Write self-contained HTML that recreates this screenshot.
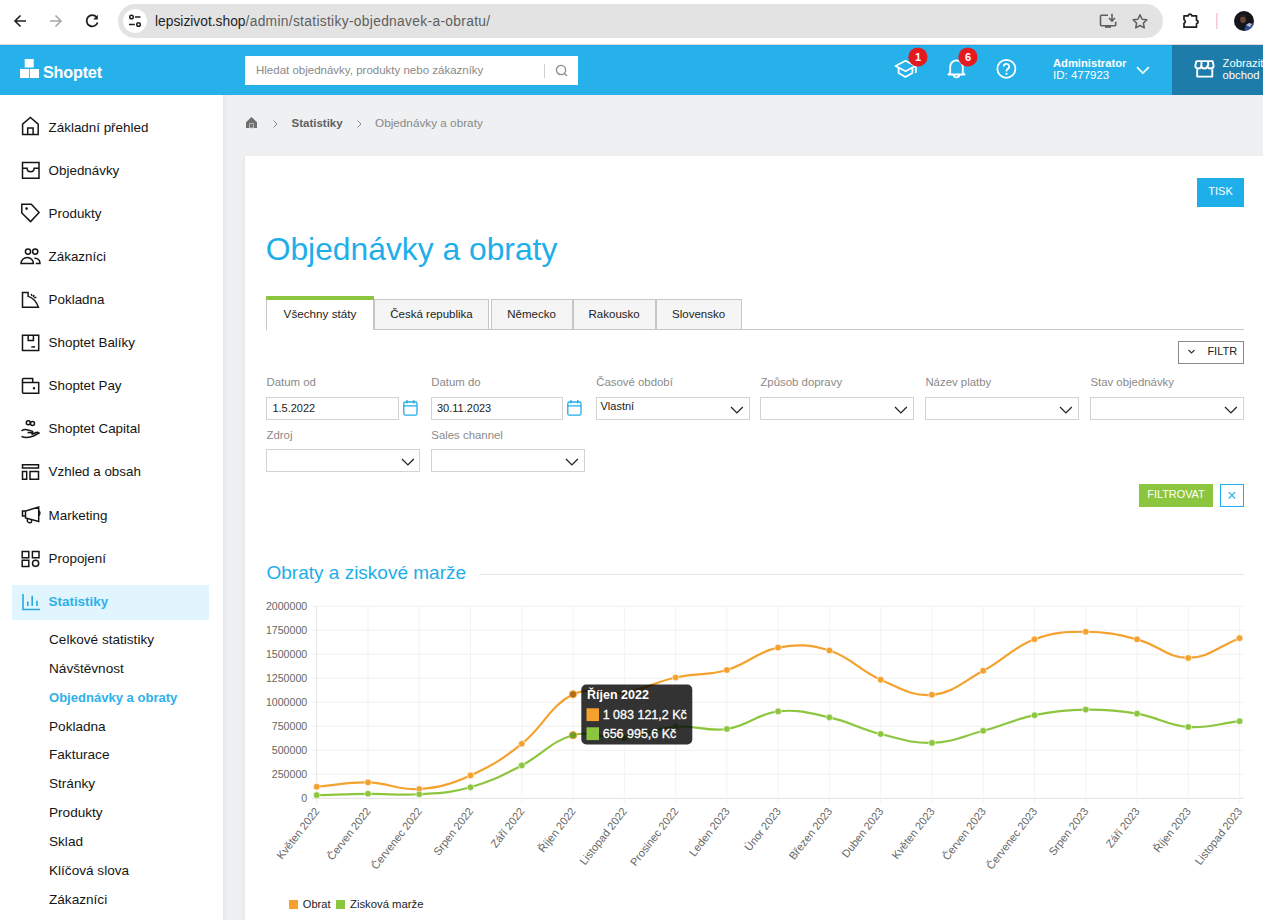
<!DOCTYPE html>
<html><head><meta charset="utf-8">
<style>
*{margin:0;padding:0;box-sizing:border-box}
html,body{width:1263px;height:920px;overflow:hidden;background:#fff;font-family:"Liberation Sans",sans-serif;color:#222}
.a{position:absolute}
.t{position:absolute;white-space:nowrap;line-height:1}
#chrome{left:0;top:0;width:1263px;height:44px;background:#fff}
#pill{left:118px;top:4px;width:1045px;height:34px;border-radius:17px;background:#e3e3e3}
#hdr{left:0;top:44px;width:1263px;height:51px;background:#27b1ea;border-top:1px solid #e0d9d7;box-shadow:inset 0 1px 0 #1cadee}
#shop{left:1172px;top:45px;width:91px;height:50px;background:#1d7caa}
#side{left:0;top:95px;width:223px;height:825px;background:#fff}
#main{left:223px;top:95px;width:1040px;height:825px;background:#eef0f2;box-shadow:inset 5px 0 5px -3px rgba(0,0,0,0.05)}
#card{left:245px;top:156px;width:1018px;height:764px;background:#fff;box-shadow:-2px 0 3px rgba(0,0,0,0.03)}
.nav{left:48px;font-size:13.4px;color:#1a1a1a}
.sub{left:48px;font-size:13.4px;color:#1a1a1a}
.ic{position:absolute;fill:none;stroke:#1a1a1a;stroke-width:1.5}
.lbl{font-size:11.5px;color:#888}
.inp{position:absolute;border:1px solid #d0d0d0;background:#fff;height:23px}
.chev{position:absolute;fill:none;stroke:#222;stroke-width:1.4}
.tab{position:absolute;top:299px;height:31px;border:1px solid #c8c8c8;background:#f4f4f4;font-size:12px;color:#222;text-align:center;line-height:29px}
</style></head><body>
<!-- browser chrome -->
<div id="chrome" class="a"></div>
<div id="pill" class="a"></div>
<div class="a" style="left:123px;top:9px;width:24px;height:24px;border-radius:12px;background:#fff"></div>
<svg class="a" style="left:0;top:0" width="1263" height="44">
 <g fill="none" stroke="#1f1f1f" stroke-width="1.6" stroke-linecap="butt">
  <path d="M26 21H15.5M20.5 15.5L15 21l5.5 5.5"/>
 </g>
 <g fill="none" stroke="#a6a6a6" stroke-width="1.6">
  <path d="M50 21h10.5M55.5 15.5L61 21l-5.5 5.5"/>
 </g>
 <g fill="none" stroke="#1f1f1f" stroke-width="1.8">
  <path d="M96.6 17.2A5.6 5.6 0 1 0 97.6 22.5"/>
 </g>
 <path d="M97.8 14.8v4.6h-4.6z" fill="#1f1f1f"/>
 <g fill="none" stroke="#1f1f1f" stroke-width="1.5">
  <circle cx="131.5" cy="17" r="1.8"/><path d="M135 17h5.5"/>
  <circle cx="138.5" cy="24.5" r="1.8"/><path d="M129 24.5h5.8"/>
 </g>
 <g fill="none" stroke="#5f5f5f" stroke-width="1.6">
  <path d="M1108 15.3h-6.6a0.9 .9 0 0 0-.9.9v8.6a.9 .9 0 0 0 .9.9h13.4a.9 .9 0 0 0 .9-.9v-3"/>
  <path d="M1112 13.8v7M1109 18l3 3 3-3"/>
 </g>
 <rect x="1105" y="26" width="6" height="1.8" fill="#5f5f5f"/>
 <path d="M1140 14.8l2.1 4.4 4.8.6-3.5 3.3.9 4.7-4.3-2.3-4.3 2.3.9-4.7-3.5-3.3 4.8-.6z" fill="none" stroke="#5f5f5f" stroke-width="1.5" stroke-linejoin="round"/>
 <path d="M1184 15.8h4.3a1.7 1.7 0 0 1 3.4 0h4.8v4.6a1.6 1.6 0 0 1 0 3.2v3.6h-12.5v-3.9a1.9 1.9 0 0 0 0-3.6z" fill="none" stroke="#1f1f1f" stroke-width="1.7" stroke-linejoin="round"/>
 <rect x="1216" y="13" width="1.5" height="16" fill="#f4c6da"/>
 <clipPath id="av"><circle cx="1244" cy="21" r="10"/></clipPath>
 <g clip-path="url(#av)"><rect x="1234" y="11" width="20" height="20" fill="#15151c"/>
 <path d="M1244 31l2-6 4-2 5 1v8z" fill="#2a4a9a"/>
 <path d="M1246 25l3-2 3 1-2 3z" fill="#b9bcc4"/>
 <ellipse cx="1243" cy="19.5" rx="2.8" ry="3.6" fill="#6a4538"/>
 <path d="M1240 16c1-2 5-2 6 0v1h-6z" fill="#2a1e1a"/></g>
</svg>
<div class="t" style="left:155px;top:15px;font-size:13.8px;color:#1f1f1f">lepsizivot.shop<span style="color:#5e5e5e;letter-spacing:0.31px">/admin/statistiky-objednavek-a-obratu/</span></div>
<div id="hdr" class="a"></div>
<div id="shop" class="a"></div>
<svg class="a" style="left:0;top:44px" width="1263" height="51">
 <g fill="#fff">
  <rect x="24.7" y="15" width="9" height="8.5"/>
  <rect x="20" y="25" width="9" height="9"/>
  <rect x="29.8" y="25" width="9.2" height="9"/>
 </g>
</svg>
<div class="t" style="left:43px;top:64px;font-size:16.2px;font-weight:bold;color:#fff;letter-spacing:-0.2px">Shoptet</div>
<div class="a" style="left:245px;top:56px;width:333px;height:29px;background:#fff"></div>
<div class="t" style="left:256px;top:65px;font-size:11.5px;color:#8a8a8a">Hledat objednávky, produkty nebo zákazníky</div>
<div class="a" style="left:544px;top:64px;width:1px;height:14px;background:#cfcfcf"></div>
<svg class="a" style="left:554px;top:63px" width="16" height="16"><circle cx="7" cy="7" r="4.6" fill="none" stroke="#8a8a8a" stroke-width="1.3"/><path d="M10.3 10.3l2.7 2.7" stroke="#8a8a8a" stroke-width="1.3"/></svg>
<svg class="a" style="left:880px;top:44px" width="383" height="51">
 <g fill="none" stroke="#fff" stroke-width="1.8" stroke-linejoin="round">
  <path d="M15.5 22l10-5.3 10 5.3-10 5.3z"/>
  <path d="M18.6 23.8v5.2l6.9 4 6.9-4v-5.2"/>
  <path d="M35.8 22.3v6.6"/>
  <path d="M70.2 28.8v-6.1a6.3 6.3 0 0 1 12.6 0v6.1l1.8 1.7h-16.2z"/>
  <path d="M73.6 30.8a2.9 2.5 0 0 0 5.8 0"/>
  <circle cx="126.4" cy="24.8" r="9"/>
 </g>
 <path d="M123.6 22.6a2.8 2.8 0 1 1 4.1 2.5c-.8.5-1.2.9-1.2 1.8v.5" fill="none" stroke="#fff" stroke-width="1.8"/>
 <circle cx="126.5" cy="29.8" r="1.1" fill="#fff"/>
 <circle cx="37.9" cy="13" r="9.6" fill="#e31b1f"/>
 <circle cx="87.9" cy="13" r="9.6" fill="#e31b1f"/>
 <path d="M257 23.1l5.9 6 5.9-6" fill="none" stroke="#fff" stroke-width="1.5"/>
 <g fill="none" stroke="#fff" stroke-width="1.9" stroke-linejoin="round">
  <path d="M317.2 25.3v7.3h15.1v-7.3"/>
  <path d="M316.4 17.1H332.6L333.6 21.8A3.05 2.7 0 0 1 327.5 21.8A3.05 2.7 0 0 1 321.4 21.8A3.05 2.7 0 0 1 315.3 21.8Z"/>
  <path d="M321.6 17.1l-.3 4.7M328 17.1l.3 4.7"/>
 </g>
</svg>
<div class="t" style="left:913px;top:51.5px;width:10px;text-align:center;font-size:11px;font-weight:bold;color:#fff">1</div>
<div class="t" style="left:963px;top:51.5px;width:10px;text-align:center;font-size:11px;font-weight:bold;color:#fff">6</div>
<div class="t" style="left:1053px;top:57.5px;font-size:11.2px;font-weight:bold;color:#fff">Administrator</div>
<div class="t" style="left:1053px;top:69.5px;font-size:11.5px;color:#fff">ID: 477923</div>
<div class="t" style="left:1222.5px;top:58px;font-size:11.3px;color:#fff">Zobrazit</div>
<div class="t" style="left:1222.5px;top:69.5px;font-size:11.3px;color:#fff">obchod</div>
<div id="side" class="a"></div>
<div class="a" style="left:12px;top:585px;width:197px;height:35px;background:#e1f5fe"></div>
<div class="t" style="left:48.6px;top:120.66px;font-size:13.4px;color:#151515">Základní přehled</div>
<div class="t" style="left:48.6px;top:163.76px;font-size:13.4px;color:#151515">Objednávky</div>
<div class="t" style="left:48.6px;top:206.86px;font-size:13.4px;color:#151515">Produkty</div>
<div class="t" style="left:48.6px;top:249.96px;font-size:13.4px;color:#151515">Zákazníci</div>
<div class="t" style="left:48.6px;top:293.06px;font-size:13.4px;color:#151515">Pokladna</div>
<div class="t" style="left:48.6px;top:336.16px;font-size:13.4px;color:#151515">Shoptet Balíky</div>
<div class="t" style="left:48.6px;top:379.26px;font-size:13.4px;color:#151515">Shoptet Pay</div>
<div class="t" style="left:48.6px;top:422.36px;font-size:13.4px;color:#151515">Shoptet Capital</div>
<div class="t" style="left:48.6px;top:465.46px;font-size:13.4px;color:#151515">Vzhled a obsah</div>
<div class="t" style="left:48.6px;top:508.56px;font-size:13.4px;color:#151515">Marketing</div>
<div class="t" style="left:48.6px;top:551.66px;font-size:13.4px;color:#151515">Propojení</div>
<div class="t" style="left:48.6px;top:594.96px;font-size:13.4px;font-weight:bold;color:#2db1ea">Statistiky</div>
<div class="t" style="left:49px;top:633.09px;font-size:13.6px;color:#151515">Celkové statistiky</div>
<div class="t" style="left:49px;top:661.94px;font-size:13.6px;color:#151515">Návštěvnost</div>
<div class="t" style="left:49px;top:691.25px;font-size:13.05px;font-weight:bold;color:#2db1ea">Objednávky a obraty</div>
<div class="t" style="left:49px;top:719.64px;font-size:13.6px;color:#151515">Pokladna</div>
<div class="t" style="left:49px;top:748.49px;font-size:13.6px;color:#151515">Fakturace</div>
<div class="t" style="left:49px;top:777.34px;font-size:13.6px;color:#151515">Stránky</div>
<div class="t" style="left:49px;top:806.19px;font-size:13.6px;color:#151515">Produkty</div>
<div class="t" style="left:49px;top:835.04px;font-size:13.6px;color:#151515">Sklad</div>
<div class="t" style="left:49px;top:863.89px;font-size:13.6px;color:#151515">Klíčová slova</div>
<div class="t" style="left:49px;top:892.74px;font-size:13.6px;color:#151515">Zákazníci</div>
<svg class="a" style="left:0;top:95px" width="223" height="825">
 <g fill="none" stroke="#151515" stroke-width="1.5" stroke-linejoin="miter">
  <path d="M22.6 39.5v-10.4l7.8-6.6 7.8 6.6v10.4z"/><path d="M27.7 39.5v-6.4h5.4v6.4"/>
  <path d="M22.5 67.5h16.5v15.7h-16.5z"/><path d="M22.5 73.2h4.6c0 4.6 7 4.6 7 0h4.9"/>
  <path d="M21.8 109.2h9.5l7.8 8.4-8.5 9-8.8-8.6z"/>
  <circle cx="26.6" cy="113.6" r=".6" fill="#151515"/>
  <circle cx="28" cy="156.6" r="2.6"/><circle cx="35.2" cy="156.6" r="2.6"/>
  <path d="M21 168.5a6.2 6 0 0 1 12.4 0z"/><path d="M34.5 163.2a5 5 0 0 1 5.5 5.3h-4.2"/>
  <path d="M22.5 197.4h5.6v4q7 2 10.3 10.8h-15.9z"/>
  <path d="M31.2 199l.9 2M34 200l-.6 2.2M36.3 202.2l-2 .7"/>
  <path d="M22.5 240.2h16.2v15.2h-16.2z"/><path d="M28.2 240.2v5.2h5.2v-5.2"/><path d="M31.3 251.9h3.8"/>
  <path d="M22.5 287.6v-3.2q0-.9.9-.9h9.3v4.1"/><path d="M22.5 287.6h16.2v10.6h-15.3q-.9 0-.9-.9z"/>
  <circle cx="34" cy="293.2" r=".5" fill="#151515"/>
  <circle cx="28.3" cy="327.8" r="2"/><circle cx="32.5" cy="328.6" r="2"/>
  <path d="M21.5 335.8q3-2 6.5-.8l4.5 1.3q1 1.3-1 1.5l-4-.2M21.5 341.5q6 2 12-.5l5.5-3q-1.5-1.5-4 0l-3.5 1.5"/>
  <path d="M22.5 369.7h16v3.3h-16z"/><path d="M22.5 376.5h4.2v7.8h-4.2z"/><path d="M30 376.5h8.5v7.8h-8.5z"/>
  <path d="M25.5 421v-5l13.2-4v14.5l-13.2-3.5z"/><path d="M25.5 416h-3v5h3"/><path d="M38.7 416q2.5 1.5 0 4.7"/><path d="M27.5 423.5q-1 4 2 4.2t1.8-2.6"/>
  <path d="M22.2 456.5h6.6v6.2h-6.6zM32.4 456.5h6.6v6.2h-6.6zM22.2 465.2h6.6v6.2h-6.6z"/><circle cx="35.6" cy="468.3" r="3.1"/>
 </g>
 <g fill="none" stroke="#27aae1" stroke-width="1.6">
  <path d="M23 499v15.5h17"/><path d="M27.8 506.5v4.5M32.2 500.8v10.2M37 505.8v5.2"/>
 </g>
</svg>
<div id="main" class="a"></div>
<div id="card" class="a"></div>
<svg class="a" style="left:245px;top:116px" width="14" height="14"><path d="M1 6.3L6.5 1l5.5 5.3v5.6h-11z" fill="#6f6f6f"/><rect x="4.6" y="7.6" width="3.8" height="4.3" fill="#6f6f6f" stroke="#c9c9c9" stroke-width="0.8"/></svg>
<svg class="a" style="left:270px;top:118px" width="100" height="12"><path d="M3.5 2.5l3.5 3.5-3.5 3.5M87.5 2.5l3.5 3.5-3.5 3.5" fill="none" stroke="#8a8a8a" stroke-width="1"/></svg>
<div class="t" style="left:291.5px;top:118.07px;font-size:11.5px;font-weight:bold;color:#5f5f5f">Statistiky</div>
<div class="t" style="left:375px;top:117.25px;font-size:11.75px;color:#888">Objednávky a obraty</div>
<div class="a" style="left:1197px;top:178px;width:47px;height:29px;background:#1eaee9"></div>
<div class="t" style="left:1197px;top:186.29px;width:47px;text-align:center;font-size:11px;color:#fff">TISK</div>
<div class="t" style="left:265.7px;top:233.58px;font-size:31.8px;color:#1eaee9">Objednávky a obraty</div>
<div class="a" style="left:266px;top:329px;width:978px;height:1px;background:#c6c6c6"></div>
<div class="a" style="left:373.6px;top:299px;width:115.9px;height:31px;background:#f5f5f5;border:1px solid #c6c6c6"></div>
<div class="t" style="left:373.6px;top:308.67px;width:115.9px;text-align:center;font-size:11.5px;color:#222">Česká republika</div>
<div class="a" style="left:490.5px;top:299px;width:82.2px;height:31px;background:#f5f5f5;border:1px solid #c6c6c6"></div>
<div class="t" style="left:490.5px;top:308.67px;width:82.2px;text-align:center;font-size:11.5px;color:#222">Německo</div>
<div class="a" style="left:572.7px;top:299px;width:82.9px;height:31px;background:#f5f5f5;border:1px solid #c6c6c6"></div>
<div class="t" style="left:572.7px;top:308.67px;width:82.9px;text-align:center;font-size:11.5px;color:#222">Rakousko</div>
<div class="a" style="left:655.6px;top:299px;width:86.0px;height:31px;background:#f5f5f5;border:1px solid #c6c6c6"></div>
<div class="t" style="left:655.6px;top:308.67px;width:86.0px;text-align:center;font-size:11.5px;color:#222">Slovensko</div>
<div class="a" style="left:266px;top:296px;width:108px;height:34px;background:#fff;border-left:1px solid #c6c6c6;border-right:1px solid #c6c6c6"></div>
<div class="a" style="left:266px;top:296px;width:108px;height:4px;background:#8cc63f"></div>
<div class="t" style="left:266px;top:307.60px;width:108px;text-align:center;font-size:11.7px;color:#222">Všechny státy</div>
<div class="a" style="left:1178px;top:341px;width:66px;height:23px;border:1px solid #8a8a8a"></div>
<svg class="a" style="left:1186px;top:347px" width="12" height="10"><path d="M2.5 3l3 3 3-3" fill="none" stroke="#333" stroke-width="1.1"/></svg>
<div class="t" style="left:1207.4px;top:345.99px;font-size:11px;color:#222;">FILTR</div>
<div class="t" style="left:266.5px;top:377.25px;font-size:11.4px;color:#8a8a8a;">Datum od</div>
<div class="t" style="left:431.3px;top:377.25px;font-size:11.4px;color:#8a8a8a;">Datum do</div>
<div class="t" style="left:596.2px;top:377.25px;font-size:11.4px;color:#8a8a8a;">Časové období</div>
<div class="t" style="left:760.4px;top:377.25px;font-size:11.4px;color:#8a8a8a;">Způsob dopravy</div>
<div class="t" style="left:925.4px;top:377.25px;font-size:11.4px;color:#8a8a8a;">Název platby</div>
<div class="t" style="left:1090.4px;top:377.25px;font-size:11.4px;color:#8a8a8a;">Stav objednávky</div>
<div class="a" style="left:266px;top:397px;width:133px;height:23px;border:1px solid #d3d3d3"></div>
<div class="a" style="left:431px;top:397px;width:132px;height:23px;border:1px solid #d3d3d3"></div>
<div class="t" style="left:272.4px;top:402.69px;font-size:11px;color:#222;">1.5.2022</div>
<div class="t" style="left:437.0px;top:402.69px;font-size:11px;color:#222;">30.11.2023</div>
<svg class="a" style="left:402.5px;top:399px" width="16" height="18"><g fill="none" stroke="#1eaee9" stroke-width="1.3"><rect x="0.8" y="3" width="13.2" height="13.2" rx="1.5"/><path d="M0.8 6.8h13.2M4 1v3.5M10.8 1v3.5"/></g></svg>
<svg class="a" style="left:566.8px;top:399px" width="16" height="18"><g fill="none" stroke="#1eaee9" stroke-width="1.3"><rect x="0.8" y="3" width="13.2" height="13.2" rx="1.5"/><path d="M0.8 6.8h13.2M4 1v3.5M10.8 1v3.5"/></g></svg>
<div class="a" style="left:596.3px;top:397.0px;width:153.5px;height:23px;border:1px solid #d3d3d3;background:#fff"></div>
<svg class="a" style="left:730.3px;top:404.5px" width="14" height="10"><path d="M1 2l5.9 5.9 5.9-5.9" fill="none" stroke="#222" stroke-width="1.3"/></svg>
<div class="t" style="left:600.5px;top:401.39px;font-size:11px;color:#222;">Vlastní</div>
<div class="a" style="left:760.3px;top:397.0px;width:153.5px;height:23px;border:1px solid #d3d3d3;background:#fff"></div>
<svg class="a" style="left:894.3px;top:404.5px" width="14" height="10"><path d="M1 2l5.9 5.9 5.9-5.9" fill="none" stroke="#222" stroke-width="1.3"/></svg>
<div class="a" style="left:925.4px;top:397.0px;width:153.5px;height:23px;border:1px solid #d3d3d3;background:#fff"></div>
<svg class="a" style="left:1059.4px;top:404.5px" width="14" height="10"><path d="M1 2l5.9 5.9 5.9-5.9" fill="none" stroke="#222" stroke-width="1.3"/></svg>
<div class="a" style="left:1090.4px;top:397.0px;width:153.5px;height:23px;border:1px solid #d3d3d3;background:#fff"></div>
<svg class="a" style="left:1224.4px;top:404.5px" width="14" height="10"><path d="M1 2l5.9 5.9 5.9-5.9" fill="none" stroke="#222" stroke-width="1.3"/></svg>
<div class="t" style="left:266.5px;top:429.55px;font-size:11.4px;color:#8a8a8a;">Zdroj</div>
<div class="t" style="left:431.3px;top:429.55px;font-size:11.4px;color:#8a8a8a;">Sales channel</div>
<div class="a" style="left:266.0px;top:449.2px;width:154.0px;height:23px;border:1px solid #d3d3d3;background:#fff"></div>
<svg class="a" style="left:400.5px;top:456.7px" width="14" height="10"><path d="M1 2l5.9 5.9 5.9-5.9" fill="none" stroke="#222" stroke-width="1.3"/></svg>
<div class="a" style="left:431.3px;top:449.2px;width:153.5px;height:23px;border:1px solid #d3d3d3;background:#fff"></div>
<svg class="a" style="left:565.3px;top:456.7px" width="14" height="10"><path d="M1 2l5.9 5.9 5.9-5.9" fill="none" stroke="#222" stroke-width="1.3"/></svg>
<div class="a" style="left:1139px;top:484px;width:74px;height:23px;background:#8cc63f"></div>
<div class="t" style="left:1139px;top:488.67px;width:74px;text-align:center;font-size:10.9px;color:#fff">FILTROVAT</div>
<div class="a" style="left:1220px;top:484px;width:24px;height:23px;border:1px solid #1eaee9"></div>
<svg class="a" style="left:1226px;top:490px" width="12" height="12"><path d="M2.8 2.2l6.3 6.3M9.1 2.2l-6.3 6.3" stroke="#1eaee9" stroke-width="1.1"/></svg>
<div class="t" style="left:266.5px;top:562.72px;font-size:19px;color:#1eaee9;">Obraty a ziskové marže</div>
<div class="a" style="left:480px;top:574px;width:764px;height:1px;background:#e6e6e6"></div>
<!--CHART-->
<svg class="a" style="left:0;top:0" width="1263" height="920">
<path d="M311.5 798.30H1243.7" stroke="#e2e2e2" stroke-width="1"/>
<path d="M311.5 774.30H1243.7" stroke="#f1f1f1" stroke-width="1"/>
<path d="M311.5 750.30H1243.7" stroke="#f1f1f1" stroke-width="1"/>
<path d="M311.5 726.30H1243.7" stroke="#f1f1f1" stroke-width="1"/>
<path d="M311.5 702.30H1243.7" stroke="#f1f1f1" stroke-width="1"/>
<path d="M311.5 678.30H1243.7" stroke="#f1f1f1" stroke-width="1"/>
<path d="M311.5 654.30H1243.7" stroke="#f1f1f1" stroke-width="1"/>
<path d="M311.5 630.30H1243.7" stroke="#f1f1f1" stroke-width="1"/>
<path d="M311.5 606.30H1243.7" stroke="#f1f1f1" stroke-width="1"/>
<path d="M316.70 606.3V803" stroke="#e6e6e6" stroke-width="1"/>
<path d="M367.97 606.3V803" stroke="#f3f3f3" stroke-width="1"/>
<path d="M419.24 606.3V803" stroke="#f3f3f3" stroke-width="1"/>
<path d="M470.51 606.3V803" stroke="#f3f3f3" stroke-width="1"/>
<path d="M521.78 606.3V803" stroke="#f3f3f3" stroke-width="1"/>
<path d="M573.05 606.3V803" stroke="#f3f3f3" stroke-width="1"/>
<path d="M624.32 606.3V803" stroke="#f3f3f3" stroke-width="1"/>
<path d="M675.59 606.3V803" stroke="#f3f3f3" stroke-width="1"/>
<path d="M726.86 606.3V803" stroke="#f3f3f3" stroke-width="1"/>
<path d="M778.13 606.3V803" stroke="#f3f3f3" stroke-width="1"/>
<path d="M829.40 606.3V803" stroke="#f3f3f3" stroke-width="1"/>
<path d="M880.67 606.3V803" stroke="#f3f3f3" stroke-width="1"/>
<path d="M931.94 606.3V803" stroke="#f3f3f3" stroke-width="1"/>
<path d="M983.21 606.3V803" stroke="#f3f3f3" stroke-width="1"/>
<path d="M1034.48 606.3V803" stroke="#f3f3f3" stroke-width="1"/>
<path d="M1085.75 606.3V803" stroke="#f3f3f3" stroke-width="1"/>
<path d="M1137.02 606.3V803" stroke="#f3f3f3" stroke-width="1"/>
<path d="M1188.29 606.3V803" stroke="#f3f3f3" stroke-width="1"/>
<path d="M1239.56 606.3V803" stroke="#f3f3f3" stroke-width="1"/>
<text x="307.2" y="802.10" text-anchor="end" font-size="10.6" fill="#666">0</text>
<text x="307.2" y="778.10" text-anchor="end" font-size="10.6" fill="#666">250000</text>
<text x="307.2" y="754.10" text-anchor="end" font-size="10.6" fill="#666">500000</text>
<text x="307.2" y="730.10" text-anchor="end" font-size="10.6" fill="#666">750000</text>
<text x="307.2" y="706.10" text-anchor="end" font-size="10.6" fill="#666">1000000</text>
<text x="307.2" y="682.10" text-anchor="end" font-size="10.6" fill="#666">1250000</text>
<text x="307.2" y="658.10" text-anchor="end" font-size="10.6" fill="#666">1500000</text>
<text x="307.2" y="634.10" text-anchor="end" font-size="10.6" fill="#666">1750000</text>
<text x="307.2" y="610.10" text-anchor="end" font-size="10.6" fill="#666">2000000</text>
<text transform="translate(317.00 809) rotate(-52)" x="0" y="3.8" text-anchor="end" font-size="11" fill="#666">Květen 2022</text>
<text transform="translate(368.27 809) rotate(-52)" x="0" y="3.8" text-anchor="end" font-size="11" fill="#666">Červen 2022</text>
<text transform="translate(419.54 809) rotate(-52)" x="0" y="3.8" text-anchor="end" font-size="11" fill="#666">Červenec 2022</text>
<text transform="translate(470.81 809) rotate(-52)" x="0" y="3.8" text-anchor="end" font-size="11" fill="#666">Srpen 2022</text>
<text transform="translate(522.08 809) rotate(-52)" x="0" y="3.8" text-anchor="end" font-size="11" fill="#666">Září 2022</text>
<text transform="translate(573.35 809) rotate(-52)" x="0" y="3.8" text-anchor="end" font-size="11" fill="#666">Říjen 2022</text>
<text transform="translate(624.62 809) rotate(-52)" x="0" y="3.8" text-anchor="end" font-size="11" fill="#666">Listopad 2022</text>
<text transform="translate(675.89 809) rotate(-52)" x="0" y="3.8" text-anchor="end" font-size="11" fill="#666">Prosinec 2022</text>
<text transform="translate(727.16 809) rotate(-52)" x="0" y="3.8" text-anchor="end" font-size="11" fill="#666">Leden 2023</text>
<text transform="translate(778.43 809) rotate(-52)" x="0" y="3.8" text-anchor="end" font-size="11" fill="#666">Únor 2023</text>
<text transform="translate(829.70 809) rotate(-52)" x="0" y="3.8" text-anchor="end" font-size="11" fill="#666">Březen 2023</text>
<text transform="translate(880.97 809) rotate(-52)" x="0" y="3.8" text-anchor="end" font-size="11" fill="#666">Duben 2023</text>
<text transform="translate(932.24 809) rotate(-52)" x="0" y="3.8" text-anchor="end" font-size="11" fill="#666">Květen 2023</text>
<text transform="translate(983.51 809) rotate(-52)" x="0" y="3.8" text-anchor="end" font-size="11" fill="#666">Červen 2023</text>
<text transform="translate(1034.78 809) rotate(-52)" x="0" y="3.8" text-anchor="end" font-size="11" fill="#666">Červenec 2023</text>
<text transform="translate(1086.05 809) rotate(-52)" x="0" y="3.8" text-anchor="end" font-size="11" fill="#666">Srpen 2023</text>
<text transform="translate(1137.32 809) rotate(-52)" x="0" y="3.8" text-anchor="end" font-size="11" fill="#666">Září 2023</text>
<text transform="translate(1188.59 809) rotate(-52)" x="0" y="3.8" text-anchor="end" font-size="11" fill="#666">Říjen 2023</text>
<text transform="translate(1239.86 809) rotate(-52)" x="0" y="3.8" text-anchor="end" font-size="11" fill="#666">Listopad 2023</text>
<path d="M316.70 786.70C337.21 784.98 347.51 781.92 367.97 782.40C388.53 782.88 399.00 790.48 419.24 789.10C440.01 787.69 451.30 783.90 470.51 775.41C492.31 765.78 502.99 758.68 521.78 743.82C544.01 726.24 549.20 706.21 573.05 694.32C590.22 685.76 604.24 695.99 624.32 692.70C645.25 689.27 654.76 682.13 675.59 677.53C695.78 673.07 707.14 675.80 726.86 670.04C748.16 663.83 756.74 651.68 778.13 647.60C797.76 643.86 810.31 644.52 829.40 650.50C851.33 657.36 859.15 670.40 880.67 679.70C900.17 688.13 912.02 696.54 931.94 694.81C953.04 692.98 963.33 681.57 983.21 670.81C1004.34 659.38 1012.44 647.72 1034.48 639.32C1053.46 632.09 1065.24 631.74 1085.75 631.74C1106.26 631.74 1117.04 634.22 1137.02 639.32C1158.05 644.70 1167.86 658.18 1188.29 657.95C1208.87 657.72 1219.05 646.08 1239.56 638.17" fill="none" stroke="#f5a12d" stroke-width="2.2"/>
<circle cx="316.70" cy="786.70" r="3.3" fill="#f5a12d" stroke="#fff" stroke-opacity="0.6" stroke-width="1"/>
<circle cx="367.97" cy="782.40" r="3.3" fill="#f5a12d" stroke="#fff" stroke-opacity="0.6" stroke-width="1"/>
<circle cx="419.24" cy="789.10" r="3.3" fill="#f5a12d" stroke="#fff" stroke-opacity="0.6" stroke-width="1"/>
<circle cx="470.51" cy="775.41" r="3.3" fill="#f5a12d" stroke="#fff" stroke-opacity="0.6" stroke-width="1"/>
<circle cx="521.78" cy="743.82" r="3.3" fill="#f5a12d" stroke="#fff" stroke-opacity="0.6" stroke-width="1"/>
<circle cx="573.05" cy="694.32" r="3.7" fill="#b46c0e" stroke="#f5b865" stroke-width="1"/>
<circle cx="624.32" cy="692.70" r="3.3" fill="#f5a12d" stroke="#fff" stroke-opacity="0.6" stroke-width="1"/>
<circle cx="675.59" cy="677.53" r="3.3" fill="#f5a12d" stroke="#fff" stroke-opacity="0.6" stroke-width="1"/>
<circle cx="726.86" cy="670.04" r="3.3" fill="#f5a12d" stroke="#fff" stroke-opacity="0.6" stroke-width="1"/>
<circle cx="778.13" cy="647.60" r="3.3" fill="#f5a12d" stroke="#fff" stroke-opacity="0.6" stroke-width="1"/>
<circle cx="829.40" cy="650.50" r="3.3" fill="#f5a12d" stroke="#fff" stroke-opacity="0.6" stroke-width="1"/>
<circle cx="880.67" cy="679.70" r="3.3" fill="#f5a12d" stroke="#fff" stroke-opacity="0.6" stroke-width="1"/>
<circle cx="931.94" cy="694.81" r="3.3" fill="#f5a12d" stroke="#fff" stroke-opacity="0.6" stroke-width="1"/>
<circle cx="983.21" cy="670.81" r="3.3" fill="#f5a12d" stroke="#fff" stroke-opacity="0.6" stroke-width="1"/>
<circle cx="1034.48" cy="639.32" r="3.3" fill="#f5a12d" stroke="#fff" stroke-opacity="0.6" stroke-width="1"/>
<circle cx="1085.75" cy="631.74" r="3.3" fill="#f5a12d" stroke="#fff" stroke-opacity="0.6" stroke-width="1"/>
<circle cx="1137.02" cy="639.32" r="3.3" fill="#f5a12d" stroke="#fff" stroke-opacity="0.6" stroke-width="1"/>
<circle cx="1188.29" cy="657.95" r="3.3" fill="#f5a12d" stroke="#fff" stroke-opacity="0.6" stroke-width="1"/>
<circle cx="1239.56" cy="638.17" r="3.3" fill="#f5a12d" stroke="#fff" stroke-opacity="0.6" stroke-width="1"/>
<path d="M316.70 795.13C337.21 794.59 347.46 793.96 367.97 793.79C388.47 793.62 398.83 795.56 419.24 794.27C439.84 792.97 450.77 792.86 470.51 787.31C491.78 781.32 501.94 775.49 521.78 765.41C542.95 754.66 551.03 741.13 573.05 735.23C592.05 730.13 604.04 739.60 624.32 737.92C645.05 736.19 654.85 728.52 675.59 726.71C695.87 724.95 706.91 731.97 726.86 728.99C747.93 725.84 757.12 713.77 778.13 711.40C798.14 709.14 809.33 712.98 829.40 717.40C850.35 722.02 859.80 728.81 880.67 734.00C900.82 739.01 911.56 743.54 931.94 742.91C952.57 742.27 962.88 736.31 983.21 730.81C1003.89 725.22 1013.58 719.53 1034.48 715.20C1054.59 711.04 1065.21 709.91 1085.75 709.60C1106.23 709.28 1116.82 710.20 1137.02 713.63C1157.83 717.16 1167.51 725.46 1188.29 727.00C1208.53 728.50 1219.05 723.53 1239.56 721.21" fill="none" stroke="#8cc63f" stroke-width="2.2"/>
<circle cx="316.70" cy="795.13" r="3.3" fill="#8cc63f" stroke="#fff" stroke-opacity="0.6" stroke-width="1"/>
<circle cx="367.97" cy="793.79" r="3.3" fill="#8cc63f" stroke="#fff" stroke-opacity="0.6" stroke-width="1"/>
<circle cx="419.24" cy="794.27" r="3.3" fill="#8cc63f" stroke="#fff" stroke-opacity="0.6" stroke-width="1"/>
<circle cx="470.51" cy="787.31" r="3.3" fill="#8cc63f" stroke="#fff" stroke-opacity="0.6" stroke-width="1"/>
<circle cx="521.78" cy="765.41" r="3.3" fill="#8cc63f" stroke="#fff" stroke-opacity="0.6" stroke-width="1"/>
<circle cx="573.05" cy="735.23" r="3.7" fill="#6b9f20" stroke="#f0a84a" stroke-width="1"/>
<circle cx="624.32" cy="737.92" r="3.3" fill="#8cc63f" stroke="#fff" stroke-opacity="0.6" stroke-width="1"/>
<circle cx="675.59" cy="726.71" r="3.3" fill="#8cc63f" stroke="#fff" stroke-opacity="0.6" stroke-width="1"/>
<circle cx="726.86" cy="728.99" r="3.3" fill="#8cc63f" stroke="#fff" stroke-opacity="0.6" stroke-width="1"/>
<circle cx="778.13" cy="711.40" r="3.3" fill="#8cc63f" stroke="#fff" stroke-opacity="0.6" stroke-width="1"/>
<circle cx="829.40" cy="717.40" r="3.3" fill="#8cc63f" stroke="#fff" stroke-opacity="0.6" stroke-width="1"/>
<circle cx="880.67" cy="734.00" r="3.3" fill="#8cc63f" stroke="#fff" stroke-opacity="0.6" stroke-width="1"/>
<circle cx="931.94" cy="742.91" r="3.3" fill="#8cc63f" stroke="#fff" stroke-opacity="0.6" stroke-width="1"/>
<circle cx="983.21" cy="730.81" r="3.3" fill="#8cc63f" stroke="#fff" stroke-opacity="0.6" stroke-width="1"/>
<circle cx="1034.48" cy="715.20" r="3.3" fill="#8cc63f" stroke="#fff" stroke-opacity="0.6" stroke-width="1"/>
<circle cx="1085.75" cy="709.60" r="3.3" fill="#8cc63f" stroke="#fff" stroke-opacity="0.6" stroke-width="1"/>
<circle cx="1137.02" cy="713.63" r="3.3" fill="#8cc63f" stroke="#fff" stroke-opacity="0.6" stroke-width="1"/>
<circle cx="1188.29" cy="727.00" r="3.3" fill="#8cc63f" stroke="#fff" stroke-opacity="0.6" stroke-width="1"/>
<circle cx="1239.56" cy="721.21" r="3.3" fill="#8cc63f" stroke="#fff" stroke-opacity="0.6" stroke-width="1"/>
<rect x="581.3" y="684.5" width="111" height="60" rx="5" fill="#000" fill-opacity="0.8"/>
<rect x="586.5" y="708.3" width="12.5" height="12.8" fill="#f5a12d"/>
<rect x="586.5" y="727.3" width="12.5" height="12.8" fill="#8cc63f"/>
<text x="587" y="699.4" font-size="12.5" font-weight="bold" fill="#fff">Říjen 2022</text>
<text x="602.7" y="718.6" font-size="12.5" fill="#fff" stroke="#fff" stroke-width="0.3">1 083 121,2 Kč</text>
<text x="602.7" y="737.6" font-size="12.5" fill="#fff" stroke="#fff" stroke-width="0.3">656 995,6 Kč</text>
<rect x="289" y="900" width="9" height="9" fill="#f5a12d"/><rect x="336" y="900" width="9" height="9" fill="#8cc63f"/>
<text x="302.8" y="908" font-size="11.1" fill="#222">Obrat</text><text x="350" y="908" font-size="11.3" fill="#222">Zisková marže</text>
</svg>
<!--/CHART-->
</body></html>
